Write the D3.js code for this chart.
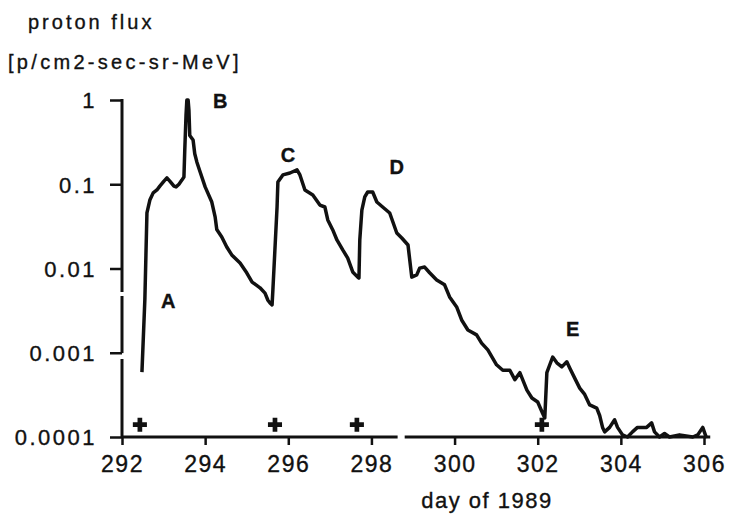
<!DOCTYPE html>
<html>
<head>
<meta charset="utf-8">
<script src="https://cdn.jsdelivr.net/npm/d3@7/dist/d3.min.js"></script>
<style>
  body { margin: 0; background: #fff; }
  text { font-family: "Liberation Sans", Arial, Helvetica, sans-serif; fill: #111; stroke: #111; stroke-width: 0.35px; }
</style>
</head>
<body>
<div id="chart"></div>
<script>
// values: day of year vs proton flux
var days = [292.48, 292.55, 292.60, 292.67, 292.75, 292.84, 292.91, 293.01, 293.08, 293.15,
  293.25, 293.30, 293.37, 293.44, 293.49, 293.51, 293.54, 293.56, 293.59, 293.61,
  293.63, 293.71, 293.75, 293.80, 293.88, 294.00, 294.16, 294.24, 294.28, 294.40,
  294.52, 294.64, 294.84, 295.00, 295.13, 295.32, 295.44, 295.51, 295.56, 295.61,
  295.63, 295.73, 295.75, 295.87, 296.04, 296.21, 296.28, 296.40, 296.59, 296.76,
  296.88, 296.95, 297.07, 297.17, 297.31, 297.43, 297.55, 297.67, 297.70, 297.72,
  297.77, 297.84, 297.91, 298.03, 298.13, 298.27, 298.44, 298.61, 298.73, 298.88,
  298.97, 299.09, 299.16, 299.28, 299.40, 299.57, 299.76, 299.88, 300.05, 300.17,
  300.32, 300.53, 300.65, 300.80, 301.01, 301.16, 301.33, 301.45, 301.57, 301.74,
  301.86, 302.00, 302.12, 302.17, 302.22, 302.29, 302.36, 302.46, 302.58, 302.70,
  302.77, 302.89, 303.01, 303.13, 303.25, 303.42, 303.49, 303.56, 303.61, 303.73,
  303.85, 303.92, 304.04, 304.16, 304.28, 304.40, 304.62, 304.74, 304.81, 304.93,
  305.05, 305.17, 305.41, 305.73, 305.85, 305.97, 306.06];
var flux = [0.00059, 0.0043, 0.0456, 0.065, 0.079, 0.0855, 0.095, 0.109, 0.119, 0.109,
  0.095, 0.093, 0.100, 0.112, 0.122, 0.255, 0.66, 1.0, 1.0, 0.76,
  0.38, 0.335, 0.23, 0.184, 0.14, 0.093, 0.0615, 0.041, 0.029, 0.0237,
  0.018, 0.0145, 0.0116, 0.0089, 0.0069, 0.0059, 0.0051, 0.0042, 0.0039, 0.0037,
  0.0056, 0.0537, 0.106, 0.129, 0.136, 0.148, 0.129, 0.0855, 0.0745, 0.0567,
  0.0537, 0.0377, 0.0287, 0.0218, 0.0166, 0.0133, 0.0091, 0.0079, 0.0077, 0.0218,
  0.0494, 0.0706, 0.0809, 0.0809, 0.0615, 0.0537, 0.0456, 0.0264, 0.023, 0.019,
  0.0079, 0.0084, 0.0101, 0.0104, 0.0089, 0.0073, 0.0064, 0.0046, 0.0035, 0.00245,
  0.00186, 0.00163, 0.0013, 0.00108, 0.00072, 0.00062, 0.00062, 0.00048, 0.00058, 0.00036,
  0.00029, 0.00026, 0.00019, 0.000168, 0.00058, 0.00072, 0.00089, 0.00076, 0.00068, 0.00078,
  0.00066, 0.0005, 0.00038, 0.00032, 0.00024, 0.00022, 0.00018, 0.00013, 0.000115, 0.00013,
  0.00016, 0.00013, 0.000106, 0.0001, 0.000115, 0.00013, 0.00013, 0.000147, 0.000115, 0.0001,
  0.00011, 0.0001, 0.000106, 0.0001, 0.000106, 0.00013, 0.000097];

// "+" markers along the bottom
var markerDays = [292.43, 295.68, 297.65, 302.1];
var markerFlux = 0.00014;

// event letters
var eventLabels = ["A", "B", "C", "D", "E"];
var eventDays = [293.11, 294.36, 295.99, 298.61, 302.84];
var eventFlux = [0.0034, 0.80, 0.184, 0.132, 0.00158];

var xTicks = [292, 294, 296, 298, 300, 302, 304, 306];
var yTicks = [1, 0.1, 0.01, 0.001, 0.0001];
var yTickLabels = ["1", "0.1", "0.01", "0.001", "0.0001"];

// broken pieces of the axis lines
var yAxisPieces = [[1, 0.00526], [0.00459, 0.00099], [0.00082, 0.0001]];
var xAxisPieces = [[292, 298.63], [298.80, 306.15]];

var svgWidth = 729;
var svgHeight = 514;
var margin = { top: 100, right: 25, bottom: 77, left: 122 };
var width = svgWidth - margin.left - margin.right;
var height = svgHeight - margin.top - margin.bottom;

var svg = d3.select("#chart")
  .append("svg")
  .attr("width", svgWidth)
  .attr("height", svgHeight);

var chartGroup = svg.append("g")
  .attr("transform", `translate(${margin.left}, ${margin.top})`);

var xScale = d3.scaleLinear().domain([292, 306]).range([0, width]);
var yScale = d3.scaleLog().domain([0.0001, 1]).range([height, 0]);

// x axis
var xAxis = chartGroup.append("g")
  .attr("transform", `translate(0, ${height})`)
  .call(d3.axisBottom(xScale).tickValues(xTicks).tickSize(8).tickSizeOuter(0).tickFormat(d3.format("d")));
xAxis.select(".domain").remove();
xAxis.selectAll(".tick line").attr("stroke", "#111").attr("stroke-width", 2.5);
xAxis.selectAll(".tick text")
  .attr("y", 35).attr("dy", 0)
  .style("font-size", "23px").style("letter-spacing", "1.5px");

// y axis
var yAxis = chartGroup.append("g")
  .call(d3.axisLeft(yScale).tickValues(yTicks).tickSize(12).tickSizeOuter(0)
    .tickFormat((d, i) => yTickLabels[i]));
yAxis.select(".domain").remove();
yAxis.selectAll(".tick line").attr("stroke", "#111").attr("stroke-width", 2.5);
yAxis.selectAll(".tick text")
  .attr("x", -25).attr("dy", "0.36em")
  .style("font-size", "22px").style("letter-spacing", "2.5px");

chartGroup.selectAll(".y-piece")
  .data(yAxisPieces)
  .enter()
  .append("line")
  .attr("x1", 0).attr("x2", 0)
  .attr("y1", d => yScale(d[0]) - 1)
  .attr("y2", d => yScale(d[1]))
  .attr("stroke", "#111")
  .attr("stroke-width", 3);

chartGroup.selectAll(".x-piece")
  .data(xAxisPieces)
  .enter()
  .append("line")
  .attr("x1", d => xScale(d[0]))
  .attr("x2", d => xScale(d[1]))
  .attr("y1", height).attr("y2", height)
  .attr("stroke", "#111")
  .attr("stroke-width", 3);

// flux curve
var fluxData = days.map((d, i) => ({ day: d, flux: flux[i] }));
var line = d3.line()
  .x(d => xScale(d.day))
  .y(d => yScale(d.flux));

chartGroup.append("path")
  .datum(fluxData)
  .attr("d", line)
  .attr("fill", "none")
  .attr("stroke", "#111")
  .attr("stroke-width", 3.5)
  .attr("stroke-linejoin", "round");

// + markers
chartGroup.selectAll(".marker")
  .data(markerDays)
  .enter()
  .append("path")
  .attr("d", d3.symbol().type(d3.symbolCross).size(110))
  .attr("transform", d => `translate(${xScale(d)}, ${yScale(markerFlux)})`)
  .attr("fill", "#111");

// event letters
chartGroup.selectAll(".event")
  .data(eventLabels)
  .enter()
  .append("text")
  .attr("x", (d, i) => xScale(eventDays[i]))
  .attr("y", (d, i) => yScale(eventFlux[i]))
  .style("text-anchor", "middle")
  .style("font-size", "20px")
  .style("font-weight", "bold")
  .text(d => d);

// titles
svg.append("text")
  .attr("x", 28).attr("y", 29)
  .style("font-size", "20px").style("letter-spacing", "3px")
  .text("proton flux");

svg.append("text")
  .attr("x", 8).attr("y", 69)
  .style("font-size", "20px").style("letter-spacing", "3.3px")
  .text("[p/cm2-sec-sr-MeV]");

svg.append("text")
  .attr("x", 487).attr("y", 508)
  .style("text-anchor", "middle")
  .style("font-size", "22px").style("letter-spacing", "1.5px")
  .text("day of 1989");
</script>
</body>
</html>
